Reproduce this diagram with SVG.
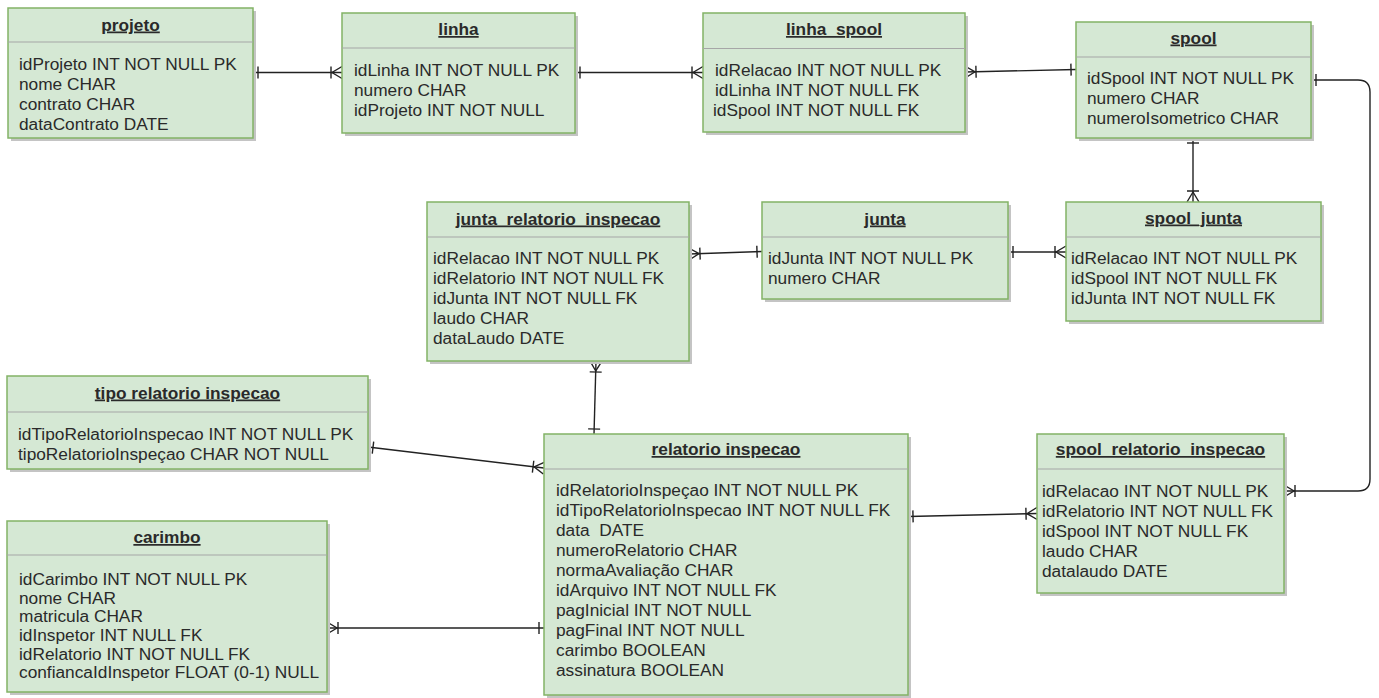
<svg xmlns="http://www.w3.org/2000/svg" width="1379" height="698" viewBox="0 0 1379 698">
<style>
.box{fill:#d5e8d4;stroke:#82b366;stroke-width:1.5}
.sh{fill:#c4c4c4}
.div{stroke:#a6a6a6;stroke-width:1.2}
text{font-family:"Liberation Sans",Arial,sans-serif;font-size:17.3px;fill:#2a2a2a}
.t{font-weight:bold;text-anchor:middle;text-decoration:underline}
.c{fill:none;stroke:#222;stroke-width:1.4}
.m{fill:none;stroke:#222;stroke-width:1.4}
</style>
<defs>
<marker id="one" markerUnits="userSpaceOnUse" orient="auto-start-reverse" refX="0" refY="0" markerWidth="30" markerHeight="30" viewBox="-15 -15 30 30" overflow="visible">
<path class="m" d="M-5,-6 L-5,6"/>
</marker>
<marker id="many" markerUnits="userSpaceOnUse" orient="auto-start-reverse" refX="0" refY="0" markerWidth="30" markerHeight="30" viewBox="-15 -15 30 30" overflow="visible">
<path class="m" d="M0,-6 L-10,0 L0,6 M-11,-6 L-11,6"/>
</marker>
</defs>

<g id="connectors">
<path class="c" d="M253,72.5 L342,72.5" marker-start="url(#one)" marker-end="url(#many)"/>
<path class="c" d="M575,72.5 L703,72.5" marker-start="url(#one)" marker-end="url(#many)"/>
<path class="c" d="M965,72 L1076,69.5" marker-start="url(#many)" marker-end="url(#one)"/>
<path class="c" d="M1193,138 L1193,202" marker-start="url(#one)" marker-end="url(#many)"/>
<path class="c" d="M1311,80 L1358,80 Q1370,80 1370,92 L1370,479 Q1370,491 1358,491 L1284,491" marker-start="url(#one)" marker-end="url(#many)"/>
<path class="c" d="M1008,252 L1066,252" marker-start="url(#one)" marker-end="url(#many)"/>
<path class="c" d="M689,254 L762,251.5" marker-start="url(#many)" marker-end="url(#one)"/>
<path class="c" d="M596,361 L594,434" marker-start="url(#many)" marker-end="url(#one)"/>
<path class="c" d="M368,447 L544,468" marker-start="url(#one)" marker-end="url(#many)"/>
<path class="c" d="M327,628 L544,628" marker-start="url(#many)" marker-end="url(#one)"/>
<path class="c" d="M908,516.5 L1037,513.5" marker-start="url(#one)" marker-end="url(#many)"/>
</g>

<g id="projeto">
<rect class="sh" x="11" y="11" width="245" height="130"/>
<rect class="box" x="8" y="8" width="245" height="130"/>
<line class="div" x1="8" y1="42" x2="253" y2="42"/>
<text class="t" x="130.5" y="30.5">projeto</text>
<text x="19" y="69.5">idProjeto INT NOT NULL PK</text>
<text x="19" y="89.5">nome CHAR</text>
<text x="19" y="109.5">contrato CHAR</text>
<text x="19" y="129.5">dataContrato DATE</text>
</g>

<g id="linha">
<rect class="sh" x="345" y="16" width="233" height="120"/>
<rect class="box" x="342" y="13" width="233" height="120"/>
<line class="div" x1="342" y1="48" x2="575" y2="48"/>
<text class="t" x="458.5" y="35">linha</text>
<text x="354" y="76">idLinha INT NOT NULL PK</text>
<text x="354" y="96">numero CHAR</text>
<text x="354" y="116">idProjeto INT NOT NULL</text>
</g>

<g id="linha_spool">
<rect class="sh" x="706" y="16" width="262" height="119"/>
<rect class="box" x="703" y="13" width="262" height="119"/>
<line class="div" x1="703" y1="48.5" x2="965" y2="48.5"/>
<text class="t" x="834" y="35">linha_spool</text>
<text x="715" y="75.5">idRelacao INT NOT NULL PK</text>
<text x="715" y="95.5">idLinha INT NOT NULL FK</text>
<text x="713" y="115.5">idSpool INT NOT NULL FK</text>
</g>

<g id="spool">
<rect class="sh" x="1079" y="25" width="235" height="116"/>
<rect class="box" x="1076" y="22" width="235" height="116"/>
<line class="div" x1="1076" y1="57" x2="1311" y2="57"/>
<text class="t" x="1193.5" y="43.5">spool</text>
<text x="1087" y="83.5">idSpool INT NOT NULL PK</text>
<text x="1087" y="103.5">numero CHAR</text>
<text x="1087" y="123.5">numeroIsometrico CHAR</text>
</g>

<g id="junta_relatorio_inspecao">
<rect class="sh" x="430" y="205" width="262" height="159"/>
<rect class="box" x="427" y="202" width="262" height="159"/>
<line class="div" x1="427" y1="237" x2="689" y2="237"/>
<text class="t" x="558" y="224.5">junta_relatorio_inspecao</text>
<text x="433" y="264">idRelacao INT NOT NULL PK</text>
<text x="433" y="284">idRelatorio INT NOT NULL FK</text>
<text x="433" y="304">idJunta INT NOT NULL FK</text>
<text x="433" y="324">laudo CHAR</text>
<text x="433" y="344">dataLaudo DATE</text>
</g>

<g id="junta">
<rect class="sh" x="765" y="205" width="246" height="97"/>
<rect class="box" x="762" y="202" width="246" height="97"/>
<line class="div" x1="762" y1="237" x2="1008" y2="237"/>
<text class="t" x="885" y="224.5">junta</text>
<text x="768" y="264">idJunta INT NOT NULL PK</text>
<text x="768" y="284">numero CHAR</text>
</g>

<g id="spool_junta">
<rect class="sh" x="1069" y="205" width="255" height="119"/>
<rect class="box" x="1066" y="202" width="255" height="119"/>
<line class="div" x1="1066" y1="237" x2="1321" y2="237"/>
<text class="t" x="1193.5" y="223.5">spool_junta</text>
<text x="1071" y="263.5">idRelacao INT NOT NULL PK</text>
<text x="1071" y="283.5">idSpool INT NOT NULL FK</text>
<text x="1071" y="303.5">idJunta INT NOT NULL FK</text>
</g>

<g id="tipo_relatorio_inspecao">
<rect class="sh" x="10" y="379" width="361" height="93"/>
<rect class="box" x="7" y="376" width="361" height="93"/>
<line class="div" x1="7" y1="412" x2="368" y2="412"/>
<text class="t" x="187.5" y="398.5">tipo relatorio inspecao</text>
<text x="18" y="440">idTipoRelatorioInspecao INT NOT NULL PK</text>
<text x="18" y="460">tipoRelatorioInspeçao CHAR NOT NULL</text>
</g>

<g id="relatorio_inspecao">
<rect class="sh" x="547" y="437" width="364" height="261"/>
<rect class="box" x="544" y="434" width="364" height="261"/>
<line class="div" x1="544" y1="469" x2="908" y2="469"/>
<text class="t" x="726" y="455">relatorio inspecao</text>
<text x="556" y="496">idRelatorioInspeçao INT NOT NULL PK</text>
<text x="556" y="516">idTipoRelatorioInspecao INT NOT NULL FK</text>
<text x="556" y="536" xml:space="preserve">data  DATE</text>
<text x="556" y="556">numeroRelatorio CHAR</text>
<text x="556" y="576">normaAvaliação CHAR</text>
<text x="556" y="596">idArquivo INT NOT NULL FK</text>
<text x="556" y="616">pagInicial INT NOT NULL</text>
<text x="556" y="636">pagFinal INT NOT NULL</text>
<text x="556" y="656">carimbo BOOLEAN</text>
<text x="556" y="676">assinatura BOOLEAN</text>
</g>

<g id="spool_relatorio_inspecao">
<rect class="sh" x="1040" y="437" width="247" height="159"/>
<rect class="box" x="1037" y="434" width="247" height="159"/>
<line class="div" x1="1037" y1="469" x2="1284" y2="469"/>
<text class="t" x="1160.5" y="455">spool_relatorio_inspecao</text>
<text x="1042" y="496.5">idRelacao INT NOT NULL PK</text>
<text x="1042" y="516.5">idRelatorio INT NOT NULL FK</text>
<text x="1042" y="536.5">idSpool INT NOT NULL FK</text>
<text x="1042" y="556.5">laudo CHAR</text>
<text x="1042" y="576.5">datalaudo DATE</text>
</g>

<g id="carimbo">
<rect class="sh" x="10" y="524" width="320" height="171"/>
<rect class="box" x="7" y="521" width="320" height="171"/>
<line class="div" x1="7" y1="555" x2="327" y2="555"/>
<text class="t" x="167" y="543">carimbo</text>
<text x="19" y="585">idCarimbo INT NOT NULL PK</text>
<text x="19" y="603.7">nome CHAR</text>
<text x="19" y="622.3">matricula CHAR</text>
<text x="19" y="641">idInspetor INT NULL FK</text>
<text x="19" y="659.7">idRelatorio INT NOT NULL FK</text>
<text x="19" y="678.3">confiancaIdInspetor FLOAT (0-1) NULL</text>
</g>
</svg>
